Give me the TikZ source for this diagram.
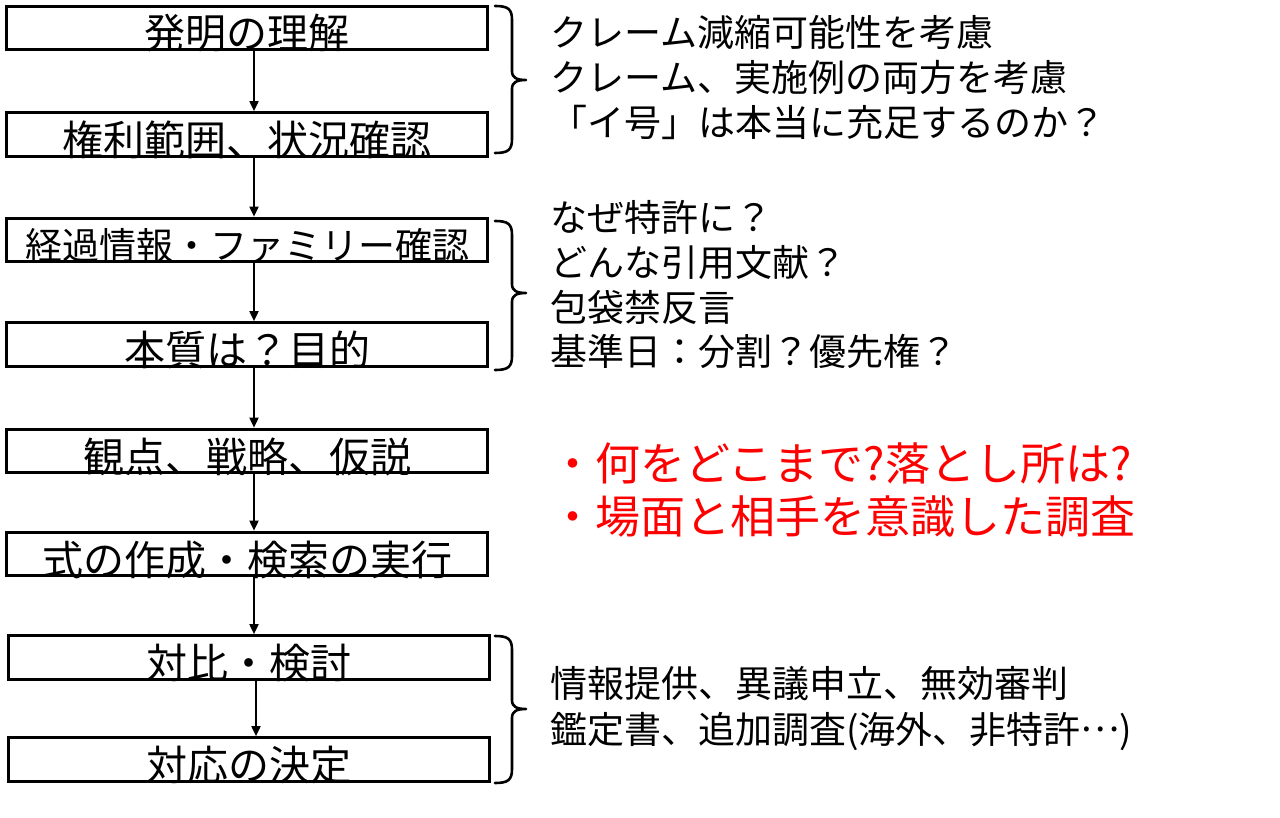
\documentclass[tikz,border=0pt]{standalone}
\usepackage{fontspec}
\setmainfont{Noto Sans CJK JP}
\usetikzlibrary{arrows.meta}
\newcommand\mybrace[3]{%
  \draw[bracepath] (495,#1) .. controls (508,#1) and (512,{#1+3}) .. (512,{#1+14})
    -- (512,{#2-9}) .. controls (512,{#2-2}) and (517,#2) .. (526,#2)
    .. controls (517,#2) and (512,{#2+2}) .. (512,{#2+9})
    -- (512,{#3-14}) .. controls (512,{#3-3}) and (508,#3) .. (495,#3);}
\begin{document}
\begin{tikzpicture}[x=1pt,y=-1pt,
  stepbox/.style={draw=black, line width=3.2pt, minimum width=481pt, minimum height=43.5pt,
    inner sep=0pt, text height=42pt, text depth=0pt, font=\fontsize{41}{41}\selectfont},
  flow/.style={-{Triangle[length=10pt,width=9pt]}, line width=1.8pt},
  bracepath/.style={line width=2.6pt, line cap=round, line join=round},
  side/.style={anchor=base west, inner sep=0pt, font=\fontsize{37}{37}\selectfont},
  redside/.style={anchor=base west, inner sep=0pt, text=red, font=\fontsize{45}{45}\selectfont}]
\useasboundingbox[fill=white] (0,0) rectangle (1280,818);

\node[stepbox] (b1) at (247,28) {発明の理解};
\node[stepbox] (b2) at (247,134.5) {権利範囲、状況確認};
\node[stepbox, font=\fontsize{37}{37}\selectfont, text height=39pt] (b3) at (247,240) {経過情報・ファミリー確認};
\node[stepbox] (b4) at (247,344.5) {本質は？目的};
\node[stepbox] (b5) at (247,451) {観点、戦略、仮説};
\node[stepbox] (b6) at (247,554) {式の作成・検索の実行};
\node[stepbox] (b7) at (249,657.5) {対比・検討};
\node[stepbox] (b8) at (249,759.5) {対応の決定};

\foreach \a/\b in {b1/b2,b2/b3,b3/b4,b4/b5,b5/b6,b6/b7,b7/b8}
  \draw[flow] ([xshift=7pt]\a.south) -- ([xshift=7pt]\a.south |- \b.north);

\mybrace{6}{80}{153}
\mybrace{221}{293}{370}
\mybrace{636}{709}{783}

\node[side] (t1a) at (550,47) {クレーム減縮可能性を考慮};
\node[side] (t1b) at (550,92) {クレーム、実施例の両方を考慮};
\node[side] (t1c) at (550,137) {「イ号」は本当に充足するのか？};

\node[side] (t2a) at (550,232) {なぜ特許に？};
\node[side] (t2b) at (550,277) {どんな引用文献？};
\node[side] (t2c) at (550,321.5) {包袋禁反言};
\node[side] (t2d) at (550,366) {基準日：分割？優先権？};

\node[redside] (r1) at (550,480) {・何をどこまで?落とし所は?};
\node[redside] (r2) at (550,533) {・場面と相手を意識した調査};

\node[side] (t3a) at (550,697) {情報提供、異議申立、無効審判};
\node[side] (t3b) at (550,743) {鑑定書、追加調査(海外、非特許\raisebox{0.3em}{…})};
\end{tikzpicture}
\end{document}
